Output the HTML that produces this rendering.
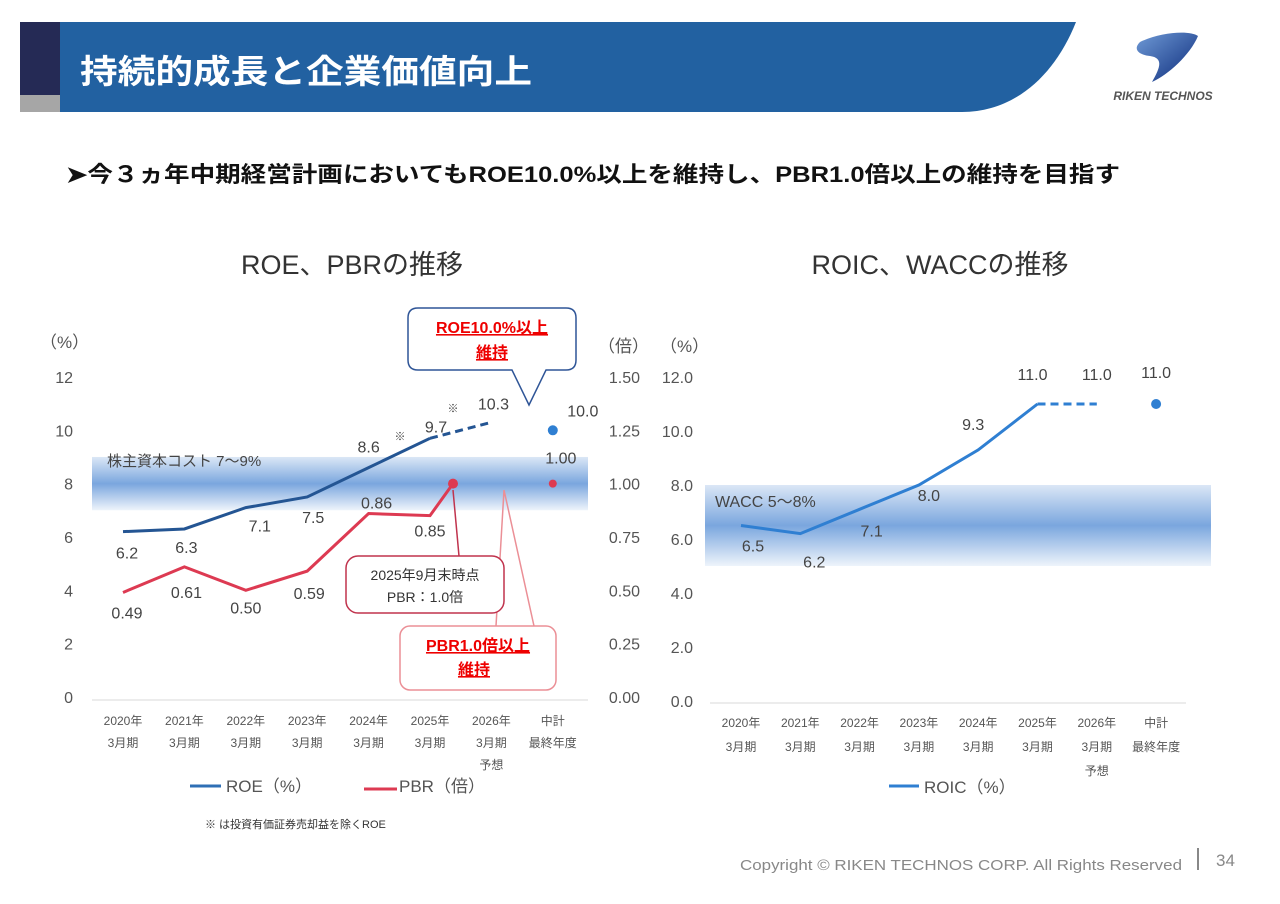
<!DOCTYPE html>
<html><head><meta charset="utf-8">
<style>
body{margin:0;background:#fff;}
svg{display:block;font-family:"Liberation Sans","Noto Sans CJK JP",sans-serif;}
</style></head>
<body>
<svg id="page" width="1280" height="904" viewBox="0 0 1280 904">
<defs>
<linearGradient id="band" x1="0" y1="0" x2="0" y2="1">
<stop offset="0" stop-color="#dbe7f6"/>
<stop offset="0.5" stop-color="#7aa6de"/>
<stop offset="1" stop-color="#eef4fb"/>
</linearGradient>
<linearGradient id="logo" x1="0" y1="0" x2="1" y2="1">
<stop offset="0" stop-color="#6f9ad6"/><stop offset="1" stop-color="#0b2a7a"/>
</linearGradient>
</defs>
<g>
<rect x="20" y="22" width="40" height="73" fill="#252a55"/>
<rect x="20" y="95" width="40" height="17" fill="#a6a6a6"/>
<path d="M60,22 H1076 C1055,75 1015,112 962,112 H60 Z" fill="#2261a1"/>
<text x="80" y="83" font-size="33" font-weight="bold" fill="#fff" textLength="452" lengthAdjust="spacingAndGlyphs">持続的成長と企業価値向上</text>
</g>
<g>
<path d="M1140,42 C1160,32 1190,30 1198,36 C1190,55 1168,75 1152,82 C1160,68 1164,58 1150,56 C1140,55 1132,50 1140,42 Z" fill="url(#logo)"/>
<text x="1163" y="100" font-size="12" font-weight="bold" font-style="italic" fill="#555" text-anchor="middle">RIKEN TECHNOS</text>
</g>
<text x="66" y="182" font-size="22" font-weight="bold" fill="#111" textLength="1054" lengthAdjust="spacingAndGlyphs">➤今３ヵ年中期経営計画においてもROE10.0%以上を維持し、PBR1.0倍以上の維持を目指す</text>

<text x="352" y="274" font-size="27" fill="#333" text-anchor="middle">ROE、PBRの推移</text>
<text x="940" y="274" font-size="27" fill="#333" text-anchor="middle">ROIC、WACCの推移</text>

<g id="left"></g>
<g id="right"></g>

<text x="205" y="828" font-size="11" fill="#333">※ は投資有価証券売却益を除くROE</text>
<text x="1182" y="870" font-size="15" fill="#888" text-anchor="end" textLength="442" lengthAdjust="spacingAndGlyphs">Copyright © RIKEN TECHNOS CORP. All Rights Reserved</text>
<rect x="1197" y="848" width="2" height="22" fill="#888"/>
<text x="1216" y="866" font-size="17" fill="#888">34</text>
</svg>
<script>
const categories=["2020年|3月期","2021年|3月期","2022年|3月期","2023年|3月期","2024年|3月期","2025年|3月期","2026年|3月期|予想","中計|最終年度"];
const roeValues=[6.2,6.3,7.1,7.5,8.6,9.7,10.3,10.0];
const pbrValues=[0.49,0.61,0.50,0.59,0.86,0.85,null,1.00];
const pbrSep2025=1.00;
const roicValues=[6.5,6.2,7.1,8.0,9.3,11.0,11.0,11.0];
const leftTicks=["0","2","4","6","8","10","12"];
const rightTicks=["0.00","0.25","0.50","0.75","1.00","1.25","1.50"];
const roicTicks=["0.0","2.0","4.0","6.0","8.0","10.0","12.0"];
const costBand=[7,9];
const waccBand=[5,8];

const NS="http://www.w3.org/2000/svg";
function mk(p,tag,a,txt){const e=document.createElementNS(NS,tag);for(const k in a)e.setAttribute(k,a[k]);if(txt!=null)e.textContent=txt;p.appendChild(e);return e;}

// LEFT CHART
const L=document.getElementById('left');
const lx=i=>123+i*61.4;
const ly=v=>697-v*26.67;
const lyR=v=>ly(v*8);
let band=mk(L,'rect',{x:92,y:ly(costBand[1]),width:496,height:ly(costBand[0])-ly(costBand[1]),fill:'url(#band)'});


mk(L,'text',{x:107,y:466,'font-size':15,fill:'#444'},'株主資本コスト  7〜9%');
mk(L,'line',{x1:92,y1:700,x2:588,y2:700,stroke:'#d9d9d9','stroke-width':1});
leftTicks.forEach((t,i)=>{const e=mk(L,'text',{x:73,y:ly(i*2)+6,'font-size':16,fill:'#555','text-anchor':'end'},t);
});
rightTicks.forEach((t,i)=>{const e=mk(L,'text',{x:640,y:lyR(i*0.25)+6,'font-size':16,fill:'#555','text-anchor':'end'},t);
});
mk(L,'text',{x:40,y:348,'font-size':17,fill:'#555'},'（%）');
mk(L,'text',{x:598,y:352,'font-size':17,fill:'#555'},'（倍）');
categories.forEach((c,i)=>{c.split('|').forEach((s,j)=>{const e=mk(L,'text',{x:lx(i),y:725+j*22,'font-size':12,fill:'#555','text-anchor':'middle'},s);
});});
let roeSolid=roeValues.slice(0,6).map((v,i)=>lx(i)+','+ly(v)).join(' ');
let roeL=mk(L,'polyline',{points:roeSolid,fill:'none',stroke:'#245593','stroke-width':3});

let roeD=mk(L,'line',{x1:lx(5),y1:ly(roeValues[5]),x2:lx(6),y2:ly(roeValues[6]),stroke:'#245593','stroke-width':3,'stroke-dasharray':'8,5'});

let roeP=mk(L,'circle',{cx:lx(7),cy:ly(roeValues[7]),r:5,fill:'#2f7fd2'});

const roeOff=[[4,21],[2,18],[14,18],[6,20],[0,-21],[6,-12],[2,-19],[30,-20]];
roeValues.forEach((v,i)=>{const e=mk(L,'text',{x:lx(i)+roeOff[i][0],y:ly(v)+roeOff[i][1]+6,'font-size':16,fill:'#444','text-anchor':'middle'},v.toFixed(1));
});
mk(L,'text',{x:400,y:440,'font-size':11,fill:'#444','text-anchor':'middle'},'※');
mk(L,'text',{x:453,y:412,'font-size':11,fill:'#444','text-anchor':'middle'},'※');
let pbrSolid=pbrValues.slice(0,6).map((v,i)=>lx(i)+','+lyR(v)).join(' ')+' '+(lx(5)+23)+','+lyR(pbrSep2025);
let pbrL=mk(L,'polyline',{points:pbrSolid,fill:'none',stroke:'#dd3a52','stroke-width':3});

let pbrS=mk(L,'circle',{cx:lx(5)+23,cy:lyR(pbrSep2025),r:5,fill:'#dd3a52'});

let pbrT=mk(L,'circle',{cx:lx(7),cy:lyR(pbrValues[7]),r:4,fill:'#dd3a52'});

const pbrOff=[[4,20],[2,25],[0,17],[2,22],[8,-11],[0,15],null,[8,-26]];
pbrValues.forEach((v,i)=>{if(v==null)return;const e=mk(L,'text',{x:lx(i)+pbrOff[i][0],y:lyR(v)+pbrOff[i][1]+6,'font-size':16,fill:'#444','text-anchor':'middle'},v.toFixed(2));
});
let c1=mk(L,'path',{d:'M418,308 H566 Q576,308 576,318 V360 Q576,370 566,370 H546 L529,405 L512,370 H418 Q408,370 408,360 V318 Q408,308 418,308 Z',fill:'#fff',stroke:'#2f5597','stroke-width':1.5});

mk(L,'text',{x:492,y:333,'font-size':16,'font-weight':'bold',fill:'#e00','text-anchor':'middle','text-decoration':'underline'},'ROE10.0%以上');
mk(L,'text',{x:492,y:358,'font-size':16,'font-weight':'bold',fill:'#e00','text-anchor':'middle','text-decoration':'underline'},'維持');
mk(L,'path',{d:'M504,490 L496,626 M504,490 L534,626',stroke:'#eb8f96','stroke-width':1.5,fill:'none'});
let c2=mk(L,'rect',{x:400,y:626,width:156,height:64,rx:10,fill:'#fff',stroke:'#eb8f96','stroke-width':1.5});

mk(L,'text',{x:478,y:651,'font-size':16,'font-weight':'bold',fill:'#e00','text-anchor':'middle','text-decoration':'underline'},'PBR1.0倍以上');
mk(L,'text',{x:474,y:675,'font-size':16,'font-weight':'bold',fill:'#e00','text-anchor':'middle','text-decoration':'underline'},'維持');
mk(L,'line',{x1:453,y1:490,x2:459,y2:556,stroke:'#c0334d','stroke-width':1.5});
let c3=mk(L,'rect',{x:346,y:556,width:158,height:57,rx:12,fill:'#fff',stroke:'#c0334d','stroke-width':1.5});

mk(L,'text',{x:425,y:580,'font-size':14,fill:'#333','text-anchor':'middle'},'2025年9月末時点');
mk(L,'text',{x:425,y:602,'font-size':14,fill:'#333','text-anchor':'middle'},'PBR：1.0倍');
mk(L,'line',{x1:190,y1:786,x2:221,y2:786,stroke:'#2f6fb5','stroke-width':3});
let lg1=mk(L,'text',{x:226,y:792,'font-size':17,fill:'#555'},'ROE（%）');


mk(L,'line',{x1:364,y1:789,x2:397,y2:789,stroke:'#dd3a52','stroke-width':3});
let lg2=mk(L,'text',{x:399,y:792,'font-size':17,fill:'#555'},'PBR（倍）');



// RIGHT CHART
const R=document.getElementById('right');
const rx=i=>741+i*59.3;
const ry=v=>701-v*27;
let wb=mk(R,'rect',{x:705,y:ry(waccBand[1]),width:506,height:ry(waccBand[0])-ry(waccBand[1]),fill:'url(#band)'});

mk(R,'text',{x:715,y:507,'font-size':16,fill:'#444'},'WACC 5〜8%');
mk(R,'line',{x1:710,y1:703,x2:1186,y2:703,stroke:'#d9d9d9','stroke-width':1});
roicTicks.forEach((t,i)=>{const e=mk(R,'text',{x:693,y:ry(i*2)+6,'font-size':16,fill:'#555','text-anchor':'end'},t);
});
mk(R,'text',{x:660,y:352,'font-size':17,fill:'#555'},'（%）');
categories.forEach((c,i)=>{c.split('|').forEach((s,j)=>{const e=mk(R,'text',{x:rx(i),y:727+j*24,'font-size':12,fill:'#555','text-anchor':'middle'},s);
});});
let rl=mk(R,'polyline',{points:roicValues.slice(0,6).map((v,i)=>rx(i)+','+ry(v)).join(' '),fill:'none',stroke:'#2f7fd2','stroke-width':3});

let rd=mk(R,'line',{x1:rx(5),y1:ry(roicValues[5]),x2:rx(6),y2:ry(roicValues[6]),stroke:'#2f7fd2','stroke-width':3,'stroke-dasharray':'8,5'});

let rp=mk(R,'circle',{cx:rx(7),cy:ry(roicValues[7]),r:5,fill:'#2f7fd2'});

const roicOff=[[12,20],[14,28],[12,21],[10,10],[-5,-26],[-5,-30],[0,-30],[0,-32]];
roicValues.forEach((v,i)=>{const e=mk(R,'text',{x:rx(i)+roicOff[i][0],y:ry(v)+roicOff[i][1]+6,'font-size':16,fill:'#444','text-anchor':'middle'},v.toFixed(1));
});
mk(R,'line',{x1:889,y1:786,x2:919,y2:786,stroke:'#2f7fd2','stroke-width':3});
let lg3=mk(R,'text',{x:924,y:793,'font-size':17,fill:'#555'},'ROIC（%）');


</script>
</body></html>
